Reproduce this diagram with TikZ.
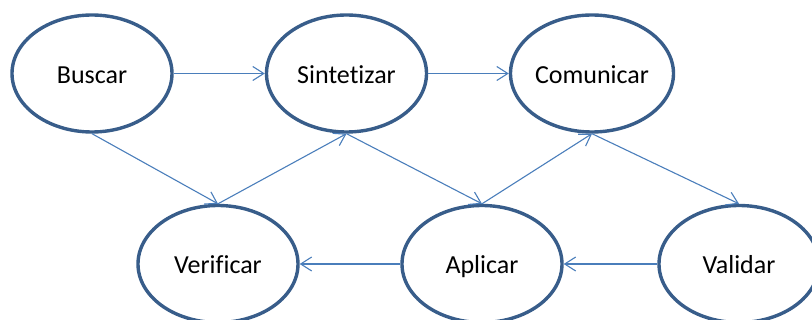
\documentclass[tikz,border=0pt]{standalone}
\usepackage{fontspec}
\setmainfont{Carlito}[Ligatures=NoCommon]
\usetikzlibrary{shapes.geometric,arrows.meta}
\definecolor{ellline}{HTML}{385D8A}
\definecolor{arrline}{HTML}{4A7EBB}
\tikzset{
  stage/.style={ellipse, draw=ellline, line width=3.4pt, minimum width=160pt, minimum height=117pt, inner sep=0pt, text height=21pt, text depth=1pt, font=\fontsize{26}{30}\selectfont},
  conn/.style={draw=arrline, line width=1.1pt, -{Straight Barb[length=11pt,width=14pt,line width=1.1pt]}}
}
\begin{document}
\begin{tikzpicture}[x=1pt,y=-1pt]
\useasboundingbox (0,0) rectangle (812,320);
\clip (0,0) rectangle (812,320);
\node[stage] (b) at (92,73.5) {Buscar};
\node[stage] (s) at (346.5,73.5) {Sintetizar};
\node[stage, minimum width=163pt] (c) at (592,73.5) {Comunicar};
\node[stage] (v) at (218,264) {Verificar};
\node[stage] (a) at (482,264) {Aplicar};
\node[stage] (va) at (739,264) {Validar};
\draw[conn] (b.east) -- (s.west);
\draw[conn] (s.east) -- (c.west);
\draw[conn] (b.south) -- (v.north);
\draw[conn] (v.north) -- (s.south);
\draw[conn] (s.south) -- (a.north);
\draw[conn] (a.north) -- (c.south);
\draw[conn] (c.south) -- (va.north);
\draw[conn] (va.west) -- (a.east);
\draw[conn] (a.west) -- (v.east);
\end{tikzpicture}
\end{document}
